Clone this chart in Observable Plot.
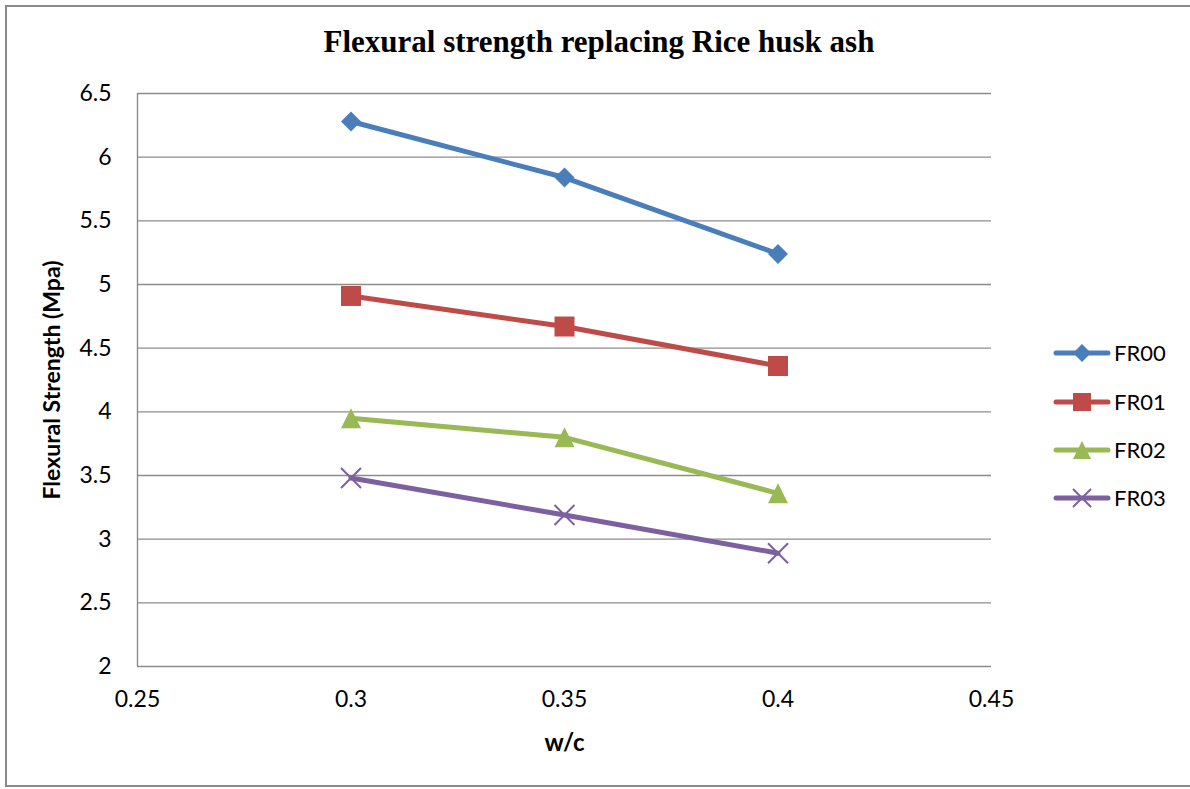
<!DOCTYPE html>
<html>
<head>
<meta charset="utf-8">
<script src="https://cdn.jsdelivr.net/npm/d3@7"></script>
<script src="https://cdn.jsdelivr.net/npm/@observablehq/plot@0.6"></script>
<style>
  html, body { margin: 0; padding: 0; background: #fff; }
  #chart { position: relative; width: 1190px; height: 789px; overflow: hidden; }
  #frame { position: absolute; left: 5px; top: 5px; width: 1200px; height: 782px;
           border: 2px solid #8a8a8a; box-sizing: border-box; }
  #plot, #overlay { position: absolute; left: 0; top: 0; }
  #overlay { pointer-events: none; }
</style>
</head>
<body>
<div id="chart">
  <div id="frame"></div>
  <div id="plot"></div>
  <svg id="overlay" width="1190" height="789"></svg>
</div>
<script>
// Water/cement ratios and flexural strength (MPa) for each mix
const wc = [0.3, 0.35, 0.4];
const FR00 = [6.28, 5.84, 5.24];
const FR01 = [4.91, 4.67, 4.36];
const FR02 = [3.95, 3.80, 3.36];
const FR03 = [3.48, 3.19, 2.89];
const seriesNames = ["FR00", "FR01", "FR02", "FR03"];
const seriesColors = ["#4a7ebb", "#be4b48", "#98b954", "#7d60a0"];
const xTicks = [0.25, 0.3, 0.35, 0.4, 0.45];
const yTicks = [2, 2.5, 3, 3.5, 4, 4.5, 5, 5.5, 6, 6.5];
const titleText = "Flexural strength replacing Rice husk ash";
const xLabel = "w/c";
const yLabel = "Flexural Strength (Mpa)";

// Long-format table built from the arrays above
const seriesValues = [FR00, FR01, FR02, FR03];
const rows = seriesNames.flatMap((name, i) =>
  wc.map((x, j) => ({series: name, wc: x, value: seriesValues[i][j]})));

// Marker shapes (half-extent equals the dot radius)
const half = size => Math.sqrt(size / Math.PI);
const symDiamond = {draw(c, size) { const r = half(size);
  c.moveTo(0, -r); c.lineTo(r, 0); c.lineTo(0, r); c.lineTo(-r, 0); c.closePath(); }};
const symSquare = {draw(c, size) { const r = half(size);
  c.rect(-r, -r, 2 * r, 2 * r); }};
const symTriangle = {draw(c, size) { const r = half(size);
  c.moveTo(0, -r); c.lineTo(r, r); c.lineTo(-r, r); c.closePath(); }};
const symCross = {draw(c, size) { const r = half(size);
  c.moveTo(-r, -r); c.lineTo(r, r); c.moveTo(r, -r); c.lineTo(-r, r); }};
const seriesSymbols = [symDiamond, symSquare, symTriangle, symCross];

const gridGray = "#8c8c8c";
const fmt = d => String(d);

const plot = Plot.plot({
  width: 1190,
  height: 789,
  marginLeft: 137,
  marginRight: 199,
  marginTop: 93,
  marginBottom: 123,
  style: {fontFamily: "Lato, sans-serif", fontSize: "23px", color: "#000", background: "transparent"},
  x: {domain: [0.25, 0.45]},
  y: {domain: [2, 6.5]},
  color: {domain: seriesNames, range: seriesColors},
  marks: [
    Plot.ruleY(yTicks.filter(d => d > 2), {stroke: gridGray, strokeWidth: 1.4}),
    Plot.ruleY([2], {stroke: gridGray, strokeWidth: 1.4}),
    Plot.ruleX([0.25], {stroke: gridGray, strokeWidth: 1.4}),
    Plot.axisY({ticks: yTicks, tickFormat: fmt, tickSize: 0, tickPadding: 26, label: null, fontSize: 23}),
    Plot.axisX({ticks: xTicks, tickFormat: fmt, tickSize: 0, tickPadding: 24, label: null, fontSize: 23}),
    Plot.text([yLabel], {frameAnchor: "left", text: d => d, rotate: -90, dx: -85,
      textAnchor: "middle", lineAnchor: "middle", fontWeight: "bold", fontSize: 23}),
    Plot.text([xLabel], {frameAnchor: "bottom", text: d => d, dy: 77,
      textAnchor: "middle", lineAnchor: "middle", fontWeight: "bold", fontSize: 24}),
    Plot.line(rows, {x: "wc", y: "value", z: "series", stroke: "series", strokeWidth: 5,
      strokeLinecap: "round", strokeLinejoin: "round"}),
    ...seriesNames.map((name, i) => Plot.dot(rows.filter(d => d.series === name), {
      x: "wc", y: "value", r: 10, symbol: () => seriesSymbols[i],
      fill: i === 3 ? "none" : seriesColors[i],
      stroke: i === 3 ? seriesColors[i] : "none",
      strokeWidth: i === 3 ? 2 : 0
    }))
  ]
});
document.getElementById("plot").append(plot);

// Title and legend
const svg = d3.select("#overlay");
svg.append("text")
  .attr("x", 599).attr("y", 52)
  .attr("text-anchor", "middle")
  .style("font", "bold 31px 'Liberation Serif', serif")
  .text(titleText);

const legendY = [353, 402, 450, 498];
const lg = svg.append("g").style("font-family", "Lato, sans-serif").style("font-size", "22px");
seriesNames.forEach((name, i) => {
  const g = lg.append("g").attr("transform", `translate(0,${legendY[i]})`);
  g.append("line").attr("x1", 1056).attr("x2", 1108)
    .attr("stroke", seriesColors[i]).attr("stroke-width", 5).attr("stroke-linecap", "round");
  g.append("path").attr("transform", "translate(1082,0)")
    .attr("d", d3.symbol(seriesSymbols[i], Math.PI * 9 * 9)())
    .attr("fill", i === 3 ? "none" : seriesColors[i])
    .attr("stroke", i === 3 ? seriesColors[i] : "none")
    .attr("stroke-width", 2);
  g.append("text").attr("x", 1114).attr("dy", "0.35em").text(name);
});
</script>
</body>
</html>
